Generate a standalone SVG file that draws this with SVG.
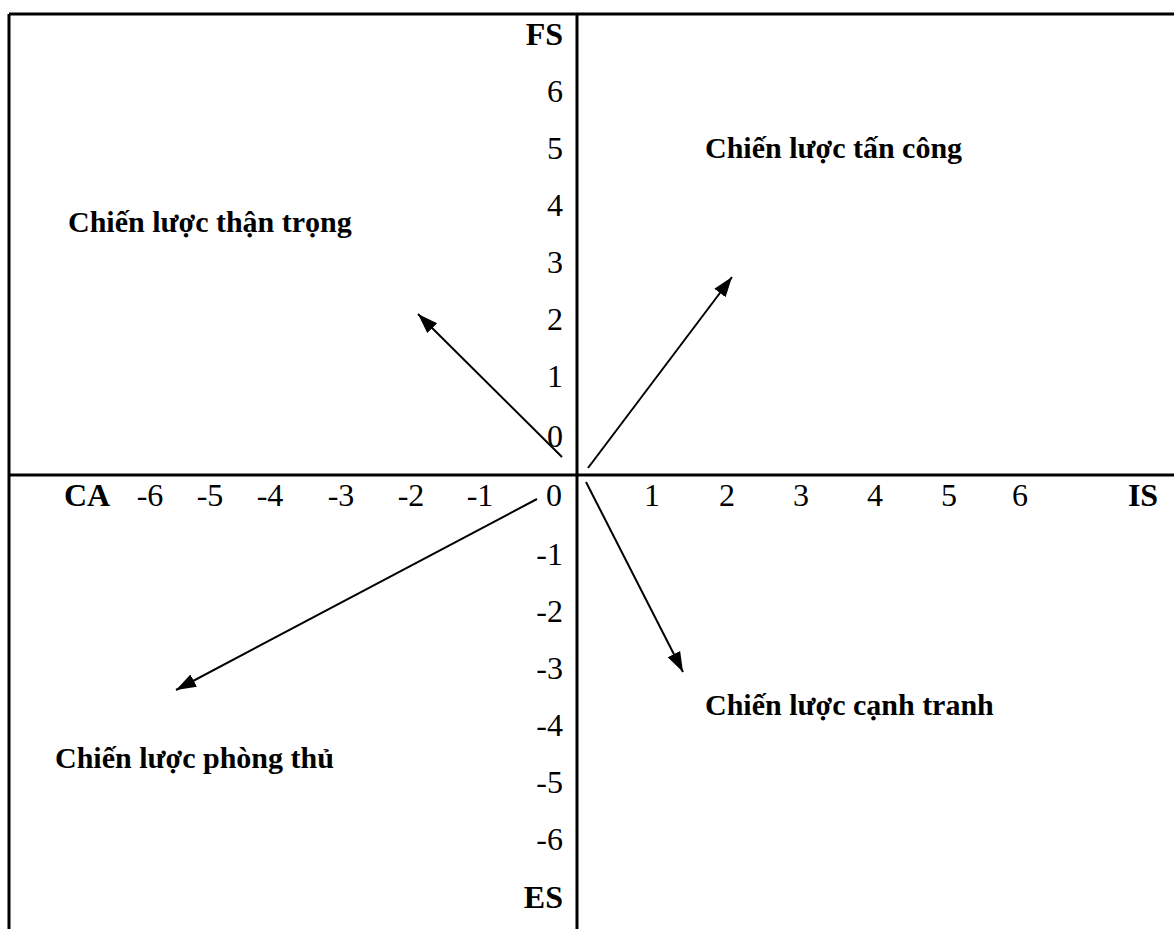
<svg xmlns="http://www.w3.org/2000/svg" width="1174" height="929" viewBox="0 0 1174 929">
<style>
.num{font-family:"Liberation Serif","Times New Roman",serif;font-size:32px;fill:#000}
.ax{font-family:"Liberation Serif","Times New Roman",serif;font-size:32px;font-weight:bold;fill:#000}
.lbl{font-family:"Liberation Serif","Times New Roman",serif;font-size:30px;font-weight:bold;fill:#000}
.frame{stroke:#000;stroke-width:3;fill:none}
.arr{stroke:#000;stroke-width:2;fill:none;marker-end:url(#ah)}
</style>
<defs>
<marker id="ah" markerUnits="userSpaceOnUse" markerWidth="22" markerHeight="16" viewBox="0 0 22 16" refX="20" refY="8" orient="auto">
<path d="M0,1 L20,8 L0,15 Z" fill="#000"/>
</marker>
</defs>
<rect width="1174" height="929" fill="#fff"/>
<g id="frame">
<line class="frame" x1="9" y1="14" x2="1174" y2="14"/>
<line class="frame" x1="9" y1="14" x2="9" y2="929"/>
<line class="frame" x1="577" y1="14" x2="577" y2="929"/>
<line class="frame" x1="9" y1="475" x2="1174" y2="475"/>
</g>
<g id="y-axis" text-anchor="end">
<text class="ax" x="563" y="45">FS</text>
<text class="num" x="563" y="102">6</text>
<text class="num" x="563" y="159">5</text>
<text class="num" x="563" y="216">4</text>
<text class="num" x="563" y="273">3</text>
<text class="num" x="563" y="330">2</text>
<text class="num" x="563" y="387">1</text>
<text class="num" x="563" y="447">0</text>
<text class="num" x="563" y="565">-1</text>
<text class="num" x="563" y="622">-2</text>
<text class="num" x="563" y="679">-3</text>
<text class="num" x="563" y="736">-4</text>
<text class="num" x="563" y="793">-5</text>
<text class="num" x="563" y="850">-6</text>
<text class="ax" x="563" y="908">ES</text>
</g>
<g id="x-axis" text-anchor="middle">
<text class="ax" x="87" y="506">CA</text>
<text class="num" x="150" y="506">-6</text>
<text class="num" x="210" y="506">-5</text>
<text class="num" x="270" y="506">-4</text>
<text class="num" x="341" y="506">-3</text>
<text class="num" x="411" y="506">-2</text>
<text class="num" x="480" y="506">-1</text>
<text class="num" x="554" y="506">0</text>
<text class="num" x="652" y="506">1</text>
<text class="num" x="727" y="506">2</text>
<text class="num" x="801" y="506">3</text>
<text class="num" x="875" y="506">4</text>
<text class="num" x="949" y="506">5</text>
<text class="num" x="1020" y="506">6</text>
<text class="ax" x="1143" y="506">IS</text>
</g>
<g id="label-tan-cong"><text class="lbl" x="705" y="158">Chiến lược tấn công</text></g>
<g id="label-than-trong"><text class="lbl" x="68" y="232">Chiến lược thận trọng</text></g>
<g id="label-canh-tranh"><text class="lbl" x="705" y="715">Chiến lược cạnh tranh</text></g>
<g id="label-phong-thu"><text class="lbl" x="55" y="768">Chiến lược phòng thủ</text></g>
<g id="connectors">
<line class="arr" x1="562" y1="457" x2="418" y2="314"/>
<line class="arr" x1="588" y1="468" x2="732" y2="277"/>
<line class="arr" x1="586" y1="482" x2="683" y2="672"/>
<line class="arr" x1="537" y1="499" x2="176" y2="690"/>
</g>
</svg>
